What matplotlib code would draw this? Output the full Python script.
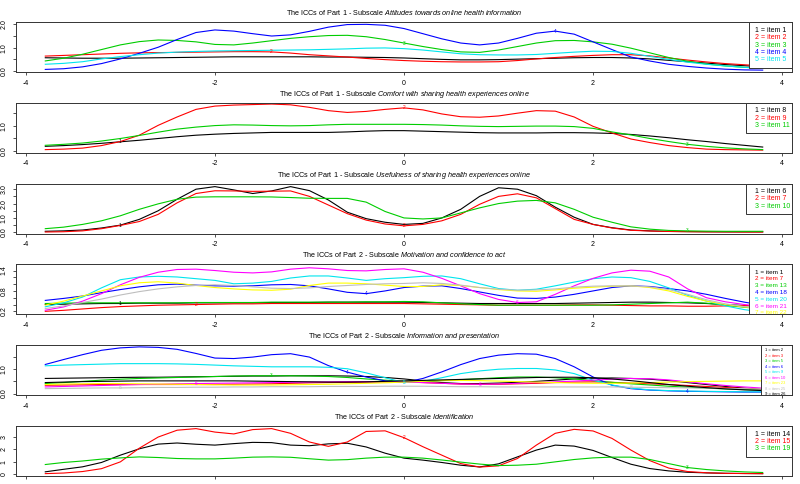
import matplotlib.pyplot as plt
from matplotlib.patches import Rectangle

plt.rcParams['font.family'] = ['Liberation Sans', 'DejaVu Sans']
plt.rcParams['mathtext.fontset'] = 'custom'
plt.rcParams['mathtext.rm'] = 'Liberation Sans'
plt.rcParams['mathtext.it'] = 'Liberation Sans:italic'

# ability scale (theta)
x_theta = [-3.8, -3.6, -3.4, -3.2, -3.0, -2.8, -2.6, -2.4, -2.2, -2.0,
           -1.8, -1.6, -1.4, -1.2, -1.0, -0.8, -0.6, -0.4, -0.2, 0.0,
           0.2, 0.4, 0.6, 0.8, 1.0, 1.2, 1.4, 1.6, 1.8, 2.0,
           2.2, 2.4, 2.6, 2.8, 3.0, 3.2, 3.4, 3.6, 3.8]

# Part 1 - Attitudes towards online health information
p1_items = ["item 1", "item 2", "item 3", "item 4", "item 5"]
p1_c1 = [0.57,0.56,0.55,0.55,0.55,0.56,0.57,0.58,0.59,0.6, 0.61,0.61,0.61,0.61,0.61,0.6,0.6,0.59,0.58,0.56,
         0.53,0.5,0.48,0.48,0.49,0.51,0.53,0.55,0.57,0.58, 0.58,0.56,0.52,0.46,0.4,0.34,0.28,0.23,0.18]
p1_c2 = [0.64,0.67,0.7,0.73,0.76,0.78,0.79,0.8,0.81,0.82, 0.83,0.83,0.82,0.77,0.7,0.65,0.6,0.54,0.49,0.45,
         0.42,0.4,0.39,0.39,0.4,0.45,0.52,0.58,0.63,0.67, 0.7,0.7,0.65,0.56,0.47,0.39,0.32,0.27,0.22]
p1_c3 = [0.43,0.55,0.72,0.92,1.12,1.26,1.33,1.31,1.25,1.14, 1.12,1.2,1.3,1.4,1.47,1.52,1.53,1.47,1.35,1.2,
         1.05,0.92,0.82,0.8,0.9,1.05,1.2,1.3,1.31,1.25, 1.15,0.98,0.78,0.58,0.42,0.3,0.22,0.16,0.12]
p1_c4 = [0.07,0.1,0.18,0.32,0.52,0.76,1.02,1.35,1.65,1.76, 1.71,1.6,1.5,1.55,1.7,1.88,1.99,2.0,1.96,1.82,
         1.6,1.38,1.2,1.12,1.2,1.4,1.62,1.71,1.58,1.25, 0.92,0.6,0.43,0.29,0.2,0.13,0.08,0.05,0.04]
p1_c5 = [0.29,0.33,0.4,0.52,0.62,0.7,0.77,0.81,0.84,0.86, 0.87,0.88,0.89,0.9,0.91,0.93,0.95,0.98,0.99,0.96,
         0.9,0.82,0.74,0.7,0.69,0.69,0.71,0.76,0.81,0.85, 0.84,0.76,0.63,0.5,0.38,0.29,0.22,0.16,0.11]

# Part 1 - Comfort with sharing health experiences online
p2_items = ["item 8", "item 9", "item 11"]
p2_c1 = [0.19,0.22,0.26,0.31,0.37,0.43,0.5,0.57,0.63,0.67, 0.7,0.72,0.74,0.74,0.74,0.74,0.76,0.79,0.81,0.81,
         0.79,0.77,0.75,0.73,0.72,0.72,0.72,0.73,0.73,0.72, 0.7,0.66,0.6,0.53,0.45,0.38,0.3,0.23,0.16]
p2_c2 = [0.06,0.08,0.12,0.22,0.38,0.63,1.02,1.35,1.65,1.78, 1.82,1.84,1.86,1.83,1.73,1.6,1.53,1.57,1.65,1.71,
         1.63,1.47,1.36,1.34,1.39,1.5,1.6,1.58,1.35,0.98, 0.72,0.48,0.34,0.22,0.14,0.08,0.06,0.05,0.04]
p2_c3 = [0.23,0.27,0.32,0.4,0.5,0.62,0.75,0.87,0.95,1.01, 1.04,1.03,1.01,1.0,1.01,1.04,1.06,1.06,1.06,1.06,
         1.05,1.03,1.0,0.98,0.97,0.98,0.99,0.99,0.97,0.9, 0.76,0.64,0.5,0.38,0.27,0.19,0.13,0.09,0.06]

# Part 1 - Usefulness of sharing health experiences online
p3_items = ["item 6", "item 7", "item 10"]
p3_c1 = [0.07,0.1,0.16,0.3,0.5,0.9,1.5,2.3,3.0,3.18, 2.95,2.7,2.88,3.18,2.9,2.25,1.4,0.95,0.7,0.55,
         0.62,1.0,1.6,2.5,3.1,3.0,2.55,1.75,1.05,0.55, 0.32,0.16,0.1,0.06,0.05,0.04,0.03,0.03,0.03]
p3_c2 = [0.02,0.04,0.1,0.25,0.48,0.75,1.25,2.05,2.7,2.89, 2.88,2.85,2.86,2.88,2.5,1.9,1.3,0.85,0.58,0.45,
         0.55,0.8,1.25,1.95,2.5,2.68,2.4,1.65,0.9,0.55, 0.3,0.14,0.09,0.06,0.04,0.03,0.03,0.02,0.02]
p3_c3 = [0.25,0.36,0.55,0.8,1.15,1.6,1.98,2.3,2.45,2.47, 2.47,2.47,2.46,2.42,2.37,2.36,2.36,2.1,1.45,1.0,
         0.93,1.0,1.35,1.7,2.0,2.17,2.22,2.05,1.6,1.05, 0.7,0.38,0.22,0.13,0.1,0.08,0.07,0.07,0.07]

# Part 2 - Motivation and confidence to act
p4_items = ["item 1", "item 7", "item 13", "item 18", "item 20", "item 21", "item 22", "item 24"]
p4_c1 = [0.4,0.41,0.42,0.43,0.43,0.44,0.44,0.44,0.45,0.45, 0.45,0.45,0.46,0.46,0.46,0.47,0.47,0.47,0.47,0.47,
         0.46,0.45,0.44,0.43,0.43,0.43,0.43,0.43,0.44,0.45, 0.46,0.47,0.47,0.46,0.45,0.43,0.4,0.37,0.34]
p4_c2 = [0.2,0.23,0.27,0.31,0.34,0.36,0.38,0.39,0.4,0.41, 0.42,0.42,0.43,0.43,0.43,0.43,0.43,0.43,0.43,0.43,
         0.42,0.41,0.4,0.39,0.38,0.38,0.38,0.38,0.39,0.39, 0.38,0.37,0.36,0.36,0.35,0.35,0.36,0.37,0.38]
p4_c3 = [0.43,0.44,0.45,0.45,0.45,0.45,0.45,0.45,0.46,0.46, 0.46,0.46,0.47,0.47,0.47,0.47,0.47,0.48,0.48,0.49,
         0.48,0.45,0.42,0.4,0.38,0.38,0.38,0.38,0.38,0.38, 0.39,0.41,0.43,0.45,0.47,0.44,0.38,0.32,0.27]
p4_c4 = [0.52,0.58,0.65,0.75,0.84,0.92,0.98,1.0,0.97,0.95, 0.94,0.95,0.98,0.99,0.95,0.86,0.76,0.72,0.8,0.9,
         0.94,0.95,0.87,0.77,0.67,0.59,0.58,0.62,0.7,0.8, 0.9,0.95,0.93,0.87,0.8,0.7,0.58,0.47,0.38]
p4_c5 = [0.33,0.45,0.62,0.89,1.13,1.21,1.23,1.21,1.16,1.11, 1.01,1.03,1.08,1.18,1.24,1.24,1.18,1.11,1.16,1.19,
         1.23,1.24,1.16,1.01,0.87,0.82,0.85,0.95,1.06,1.16, 1.21,1.19,1.08,0.89,0.67,0.5,0.36,0.25,0.18]
p4_c6 = [0.23,0.33,0.5,0.72,0.98,1.2,1.35,1.43,1.44,1.4, 1.35,1.33,1.36,1.44,1.48,1.45,1.4,1.39,1.43,1.45,
         1.35,1.17,0.95,0.72,0.55,0.46,0.48,0.7,0.95,1.17, 1.33,1.41,1.38,1.21,0.86,0.6,0.48,0.4,0.34]
p4_c7 = [0.38,0.5,0.65,0.8,0.95,1.04,1.07,1.03,0.96,0.9, 0.86,0.83,0.82,0.85,0.96,1.03,1.03,1.01,0.97,0.93,
         0.93,0.98,0.96,0.9,0.84,0.8,0.79,0.83,0.88,0.91, 0.94,0.95,0.9,0.8,0.64,0.5,0.4,0.33,0.28]
p4_c8 = [0.28,0.36,0.46,0.56,0.68,0.78,0.86,0.92,0.96,0.98, 0.96,0.92,0.88,0.87,0.89,0.93,0.96,0.99,1.01,1.02,
         1.04,1.02,0.97,0.9,0.85,0.82,0.83,0.86,0.91,0.94, 0.95,0.95,0.92,0.84,0.7,0.54,0.42,0.34,0.28]

# Part 2 - Information and presentation
p5_items = ["item 2", "item 3", "item 5", "item 6", "item 9", "item 10", "item 23", "item 25", "item 26"]
p5_c1 = [0.62,0.63,0.64,0.65,0.66,0.67,0.67,0.68,0.69,0.7, 0.71,0.72,0.72,0.73,0.73,0.73,0.72,0.7,0.66,0.6,
         0.52,0.45,0.41,0.41,0.43,0.46,0.5,0.55,0.6,0.63, 0.64,0.62,0.59,0.53,0.45,0.37,0.29,0.22,0.16]
p5_c2 = [0.34,0.35,0.36,0.37,0.37,0.37,0.37,0.37,0.37,0.37, 0.38,0.39,0.4,0.42,0.44,0.45,0.46,0.47,0.48,0.47,
         0.45,0.42,0.39,0.38,0.38,0.4,0.42,0.45,0.47,0.48, 0.46,0.43,0.4,0.37,0.33,0.29,0.25,0.21,0.17]
p5_c3 = [0.41,0.45,0.5,0.55,0.59,0.62,0.64,0.66,0.68,0.7, 0.72,0.73,0.73,0.73,0.72,0.7,0.66,0.6,0.55,0.5,
         0.5,0.53,0.57,0.61,0.65,0.68,0.68,0.65,0.6,0.53, 0.46,0.4,0.35,0.3,0.26,0.22,0.19,0.16,0.14]
p5_c4 = [1.19,1.4,1.6,1.78,1.88,1.92,1.9,1.82,1.65,1.46, 1.44,1.5,1.6,1.64,1.5,1.15,0.88,0.68,0.52,0.45,
         0.62,0.89,1.19,1.44,1.58,1.64,1.62,1.44,1.1,0.68, 0.34,0.2,0.14,0.11,0.09,0.08,0.07,0.06,0.06]
p5_c5 = [1.14,1.17,1.19,1.21,1.23,1.23,1.23,1.22,1.2,1.17, 1.14,1.12,1.1,1.1,1.1,1.08,1.02,0.85,0.65,0.45,
         0.5,0.65,0.82,0.93,1.0,1.03,1.03,0.97,0.82,0.55, 0.35,0.22,0.15,0.12,0.1,0.09,0.08,0.07,0.07]
p5_c6 = [0.27,0.29,0.31,0.33,0.35,0.37,0.38,0.4,0.41,0.42, 0.43,0.44,0.45,0.46,0.47,0.48,0.49,0.49,0.49,0.48,
         0.45,0.42,0.39,0.38,0.39,0.42,0.45,0.48,0.51,0.55, 0.59,0.62,0.61,0.56,0.48,0.4,0.33,0.27,0.22]
p5_c7 = [0.37,0.39,0.4,0.41,0.41,0.4,0.39,0.38,0.37,0.36, 0.35,0.35,0.35,0.36,0.37,0.38,0.4,0.42,0.44,0.47,
         0.5,0.53,0.54,0.53,0.51,0.49,0.47,0.45,0.43,0.42, 0.42,0.43,0.45,0.47,0.49,0.5,0.51,0.52,0.52]
p5_c8 = [0.2,0.21,0.22,0.23,0.23,0.24,0.25,0.25,0.26,0.26, 0.27,0.27,0.28,0.28,0.28,0.29,0.29,0.29,0.3,0.3,
         0.3,0.29,0.28,0.28,0.27,0.27,0.27,0.27,0.27,0.27, 0.27,0.26,0.25,0.24,0.23,0.22,0.21,0.2,0.18]
p5_c9 = [0.45,0.47,0.49,0.5,0.51,0.52,0.52,0.52,0.52,0.52, 0.52,0.51,0.5,0.49,0.48,0.47,0.47,0.48,0.5,0.52,
         0.54,0.56,0.58,0.6,0.62,0.64,0.66,0.67,0.67,0.65, 0.6,0.53,0.45,0.37,0.3,0.24,0.19,0.15,0.12]

# Part 2 - Identification
p6_items = ["item 14", "item 15", "item 19"]
p6_c1 = [0.19,0.4,0.6,0.95,1.54,2.05,2.43,2.52,2.42,2.35, 2.47,2.57,2.55,2.35,2.3,2.45,2.5,2.2,1.7,1.3,
         1.14,0.95,0.73,0.59,0.84,1.4,1.95,2.35,2.27,1.92, 1.35,0.81,0.46,0.27,0.16,0.11,0.08,0.06,0.05]
p6_c2 = [0.05,0.1,0.22,0.45,1.0,2.1,3.0,3.55,3.68,3.4, 3.25,3.6,3.68,3.3,2.6,2.25,2.6,3.45,3.5,2.95,
         2.22,1.54,0.86,0.58,0.68,1.27,2.35,3.3,3.62,3.49, 2.89,1.95,1.1,0.5,0.22,0.12,0.07,0.06,0.05]
p6_c3 = [0.78,0.95,1.07,1.22,1.32,1.4,1.35,1.27,1.24,1.24, 1.3,1.38,1.4,1.37,1.25,1.14,1.18,1.3,1.38,1.38,
         1.3,1.15,0.98,0.82,0.7,0.73,0.81,1.0,1.19,1.32, 1.38,1.38,1.19,0.86,0.54,0.38,0.27,0.19,0.14]

parts = ["The ICCs of Part 1 - Subscale", "The ICCs of Part 1 - Subscale", "The ICCs of Part 1 - Subscale",
         "The ICCs of Part 2 - Subscale", "The ICCs of Part 2 - Subscale", "The ICCs of Part 2 - Subscale"]
subscales = ["Attitudes towards online health information", "Comfort with sharing health experiences online",
             "Usefulness of sharing health experiences online", "Motivation and confidence to act",
             "Information and presentation", "Identification"]

# R's default palette
pal = ["black", "#FF0000", "#00CD00", "#0000FF", "#00E5EE", "#FF00FF", "#FFFF00", "#BEBEBE"]

panels = [
    dict(curves=[p1_c1, p1_c2, p1_c3, p1_c4, p1_c5], items=p1_items, ylim=(-0.04, 2.1),
         yt=[0, 0.5, 1, 1.5, 2], ytl=["0.0", "", "1.0", "", "2.0"]),
    dict(curves=[p2_c1, p2_c2, p2_c3], items=p2_items, ylim=(-0.065, 1.91),
         yt=[0, 0.5, 1, 1.5], ytl=["0.0", "", "1.0", ""]),
    dict(curves=[p3_c1, p3_c2, p3_c3], items=p3_items, ylim=(-0.09, 3.39),
         yt=[0, 0.5, 1, 1.5, 2, 2.5, 3], ytl=["0.0", "", "1.0", "", "2.0", "", "3.0"]),
    dict(curves=[p4_c1, p4_c2, p4_c3, p4_c4, p4_c5, p4_c6, p4_c7, p4_c8], items=p4_items, ylim=(0.11, 1.58),
         yt=[0.2, 0.4, 0.6, 0.8, 1.0, 1.2, 1.4], ytl=["0.2", "", "", "0.8", "", "", "1.4"]),
    dict(curves=[p5_c1, p5_c2, p5_c3, p5_c4, p5_c5, p5_c6, p5_c7, p5_c8, p5_c9], items=p5_items,
         ylim=(-0.07, 1.99), yt=[0, 0.5, 1, 1.5], ytl=["0.0", "", "1.0", ""]),
    dict(curves=[p6_c1, p6_c2, p6_c3], items=p6_items, ylim=(-0.14, 3.89),
         yt=[0, 1, 2, 3], ytl=["0", "1", "2", "3"]),
]

# legend box: width px, font size, line step px, first line px, text pad px
keys = [(43, 5, 7.3, 8.5, 6), (46, 5, 7.3, 8.0, 9), (46, 5, 7.3, 8.0, 9),
        (43, 4.6, 6.8, 7.7, 6), (31, 3.0, 5.5, 5.0, 4), (46, 5, 7.3, 8.0, 9)]
# where the little item numbers sit on the curves (curve no, index on theta grid)
marks = [[(2, 12), (3, 19), (4, 27)],
         [(1, 4), (2, 19), (3, 34)],
         [(1, 4), (2, 19), (3, 34)],
         [(1, 4), (2, 8), (4, 17), (6, 25)],
         [(8, 4), (6, 8), (3, 12), (4, 16), (5, 19), (6, 23), (8, 31), (4, 34)],
         [(2, 19), (3, 34)]]

AW, AH = 776.0, 50.0
fig = plt.figure(figsize=(8, 4.84), dpi=100)

for i, p in enumerate(panels):
    top = 22 + 80.8 * i
    ax = fig.add_axes([16 / 800, 1 - (top + AH) / 484, AW / 800, AH / 484])
    for k, y in enumerate(p['curves']):
        ax.plot(x_theta, y, color=pal[k % 8], lw=0.8, solid_capstyle='butt')
    for k, idx in marks[i]:
        ax.text(x_theta[idx], p['curves'][k - 1][idx], str(k), color=pal[(k - 1) % 8],
                fontsize=3.5, ha='center', va='center')

    ax.set_xlim(-4.104, 4.104)
    ax.set_ylim(*p['ylim'])
    ax.set_xticks([-4, -2, 0, 2, 4], ["-4", "-2", "0", "2", "4"])
    ax.set_yticks(p['yt'], p['ytl'], rotation=90, va='center')
    ax.tick_params(axis='both', length=2.5, width=0.6, labelsize=5, color='#333333')
    ax.tick_params(axis='x', pad=3)
    ax.tick_params(axis='y', pad=3.5)
    if i == len(panels) - 1:
        # the bottom row's tick labels fall off the page in the original
        ax.tick_params(axis='x', labelbottom=False)
    for s in ax.spines.values():
        s.set_linewidth(0.7)
        s.set_color('#333333')

    it = subscales[i].replace(" ", "\\ ")
    ax.set_title(parts[i] + " $\\mathit{" + it + "}$", fontsize=5.2, pad=5)

    w, fs, step, first, tpad = keys[i]
    n = len(p['items'])
    h = 2 * first + (n - 1) * step
    x0 = 1 - w / AW
    ax.add_patch(Rectangle((x0, 1 - h / AH), w / AW, h / AH, transform=ax.transAxes,
                           fc='white', ec='#333333', lw=0.7, zorder=5))
    for k, lab in enumerate(p['items']):
        ax.text(x0 + tpad / AW, 1 - (first + k * step) / AH, f"{k + 1} = {lab}", color=pal[k % 8],
                fontsize=fs, ha='left', va='center', transform=ax.transAxes, clip_on=True, zorder=6)

fig.savefig("out.png", dpi=100)
